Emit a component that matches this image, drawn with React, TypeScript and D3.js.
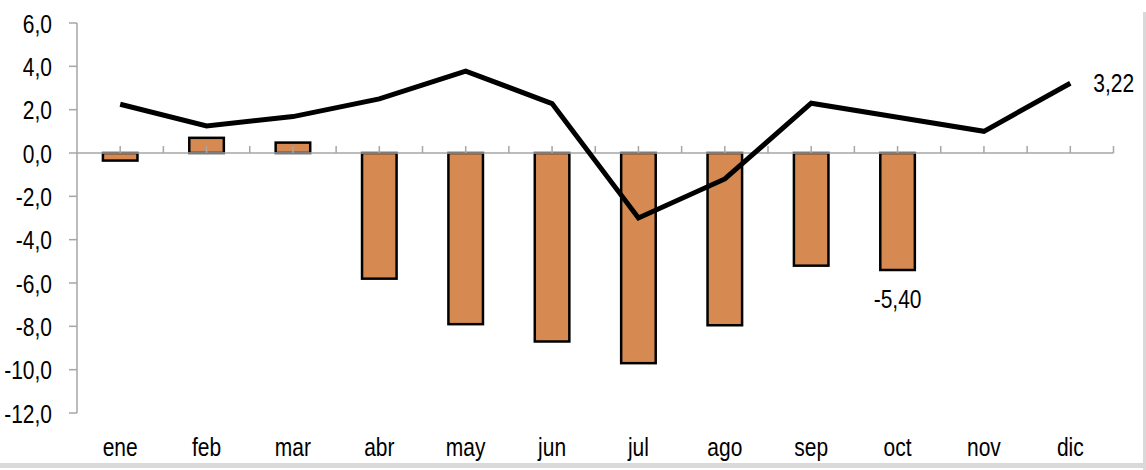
import React from "react";
import * as d3 from "d3";

const months = ["ene", "feb", "mar", "abr", "may", "jun", "jul", "ago", "sep", "oct", "nov", "dic"];
const barValues: (number | null)[] = [-0.35, 0.7, 0.48, -5.8, -7.9, -8.7, -9.7, -7.95, -5.2, -5.4, null, null];
const lineValues: number[] = [2.25, 1.25, 1.68, 2.5, 3.78, 2.28, -3.0, -1.2, 2.3, 1.65, 1.0, 3.22];
const yTicks = [6, 4, 2, 0, -2, -4, -6, -8, -10, -12];
const barLabel = { index: 9, text: "-5,40" };
const lineLabel = { index: 11, text: "3,22" };

const W = 1146;
const H = 470;
const FONT = "'Liberation Sans', Arial, sans-serif";
const FS = 25;
const SX = 0.84;

type TProps = {
  x: number;
  y: number;
  anchor: "start" | "middle" | "end";
  baseline?: "central" | "auto";
  children: React.ReactNode;
};

function Txt({ x, y, anchor, baseline = "auto", children }: TProps) {
  return (
    <text
      transform={`translate(${x},${y}) scale(${SX},1)`}
      textAnchor={anchor}
      dominantBaseline={baseline}
      fontFamily={FONT}
      fontSize={FS}
      fill="#000"
    >
      {children}
    </text>
  );
}

export default function App() {
  const x = d3.scaleBand<string>().domain(months).range([77, 1113.5]).paddingInner(0).paddingOuter(0);
  const y = d3.scaleLinear().domain([-12, 6]).range([413, 23]);
  const bw = x.bandwidth();
  const barW = bw * 0.4;
  const cx = (m: string) => (x(m) as number) + bw / 2;
  const fmt = (v: number) => v.toFixed(1).replace(".", ",");

  const line = d3
    .line<number>()
    .x((_, i) => cx(months[i]))
    .y((d) => y(d));

  const halfTicks: number[] = [];
  for (let i = 1; i <= months.length * 2; i++) {
    halfTicks.push(77 + (bw / 2) * i);
  }

  const axisColor = "#a6a6a6";

  return (
    <svg width={W} height={H} style={{ position: "absolute", left: 0, top: 0, background: "#fff" }}>
      <rect x={0} y={0} width={W} height={H} fill="#fff" />
      {/* frame shadow */}
      <rect x={1143} y={12} width={3} height={H - 12} fill="#d9d9d9" />
      <rect x={0} y={463} width={W} height={5} fill="#d9d9d9" />

      {/* y axis */}
      <line x1={77} x2={77} y1={y(6)} y2={y(-12)} stroke={axisColor} strokeWidth={1.5} />
      {yTicks.map((t) => (
        <g key={t}>
          <line x1={69} x2={77} y1={y(t)} y2={y(t)} stroke={axisColor} strokeWidth={1.5} />
          <Txt x={52} y={y(t) + 1} anchor="end" baseline="central">
            {fmt(t)}
          </Txt>
        </g>
      ))}

      {/* bars */}
      {barValues.map((v, i) =>
        v === null ? null : (
          <rect
            key={months[i]}
            x={cx(months[i]) - barW / 2}
            y={Math.min(y(v), y(0))}
            width={barW}
            height={Math.abs(y(v) - y(0))}
            fill="#D68A52"
            stroke="#000"
            strokeWidth={2.5}
          />
        )
      )}

      {/* x axis at zero */}
      <line x1={77} x2={1113.5} y1={y(0)} y2={y(0)} stroke={axisColor} strokeWidth={1.5} />
      {halfTicks.map((tx, i) => (
        <line key={i} x1={tx} x2={tx} y1={y(0)} y2={y(0) - 7} stroke={axisColor} strokeWidth={1.5} />
      ))}

      {/* line */}
      <path d={line(lineValues) || ""} fill="none" stroke="#000" strokeWidth={5} strokeLinejoin="miter" />

      {/* category labels */}
      {months.map((m) => (
        <Txt key={m} x={cx(m)} y={456} anchor="middle">
          {m}
        </Txt>
      ))}

      {/* data labels */}
      <Txt
        x={cx(months[barLabel.index])}
        y={y(barValues[barLabel.index] as number) + 29}
        anchor="middle"
        baseline="central"
      >
        {barLabel.text}
      </Txt>
      <Txt x={cx(months[lineLabel.index]) + 23} y={y(lineValues[lineLabel.index])} anchor="start" baseline="central">
        {lineLabel.text}
      </Txt>
    </svg>
  );
}
